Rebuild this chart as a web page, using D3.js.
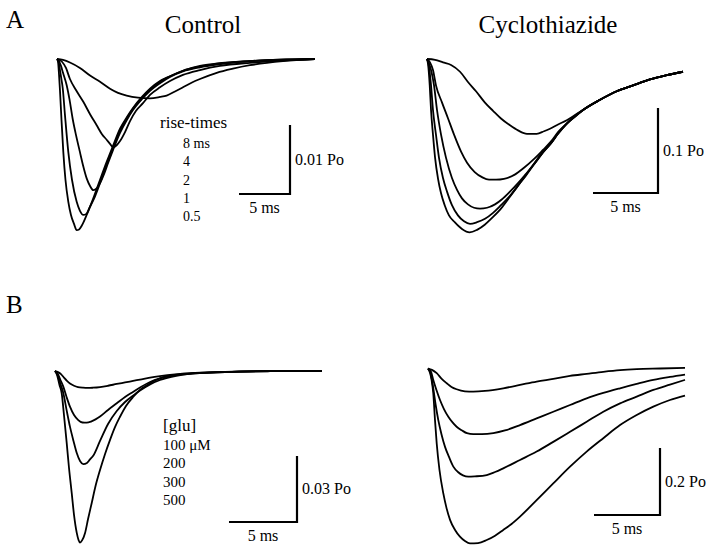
<!DOCTYPE html>
<html><head><meta charset="utf-8">
<script src="https://cdn.jsdelivr.net/npm/d3@7"></script>
<style>body{margin:0;background:#fff}svg{display:block}text{font-family:"Liberation Serif","Times New Roman",serif;fill:#000}</style>
</head><body><svg id="c" width="720" height="548"></svg>
<script>
// ---------- DATA (time in ms, value in Po) ----------
// Panel A, Control: rise-times 0.5, 1, 2, 4, 8 ms
const aCtrl05 = [[0,0],[0.1,0.0004],[0.2,0.0023],[0.29,0.0045],[0.44,0.0088],[0.62,0.0135],[0.83,0.0175],[1.11,0.0207],[1.37,0.0226],[1.67,0.0239],[1.93,0.0248],[2.16,0.0247],[2.45,0.0241],[2.94,0.0225],[3.53,0.0203],[4.22,0.0175],[4.9,0.0148],[5.49,0.0126],[6.18,0.0101],[6.86,0.0084],[7.45,0.0071],[8.33,0.0055],[9.12,0.0043],[10.1,0.0032],[11.08,0.0025],[12.35,0.0017],[14.02,0.001],[15.69,0.00065],[18.92,0.0003],[21.86,0.0001],[25.3,0]];
const aCtrl1 = [[0,0],[0.15,0.0004],[0.29,0.0016],[0.44,0.003],[0.56,0.0042],[0.78,0.0081],[1.11,0.0135],[1.47,0.0175],[1.93,0.0207],[2.25,0.022],[2.58,0.0226],[2.84,0.0225],[3.24,0.0214],[3.73,0.0199],[4.22,0.018],[4.9,0.0152],[5.49,0.0129],[6.18,0.0104],[6.86,0.0086],[7.45,0.0072],[8.33,0.0057],[9.12,0.0045],[10.1,0.0033],[11.08,0.0025],[12.35,0.0017],[14.02,0.0011],[15.69,0.0007],[18.92,0.0003],[21.86,0.0001],[25.3,0]];
const aCtrl2 = [[0,0],[0.2,0.0003],[0.39,0.001],[0.59,0.002],[0.95,0.0038],[1.23,0.0059],[1.54,0.0087],[1.86,0.011],[2.25,0.0135],[2.55,0.0154],[2.91,0.0173],[3.24,0.0184],[3.56,0.019],[3.92,0.0187],[4.22,0.018],[4.61,0.0167],[5.0,0.0151],[5.49,0.0132],[6.18,0.0107],[6.86,0.0088],[7.45,0.0074],[8.33,0.0058],[9.12,0.0046],[10.1,0.0035],[11.08,0.0026],[12.35,0.0018],[14.02,0.0012],[15.69,0.0008],[18.92,0.0003],[21.86,0.0002],[25.3,0]];
const aCtrl4 = [[0,0],[0.49,0.0004],[0.88,0.0013],[1.27,0.0029],[1.86,0.0045],[2.58,0.0062],[3.24,0.008],[3.89,0.0096],[4.41,0.0109],[4.87,0.0117],[5.2,0.0123],[5.52,0.0128],[5.85,0.0125],[6.18,0.0119],[6.67,0.0106],[7.16,0.009],[7.75,0.0075],[8.43,0.0064],[9.12,0.0052],[10.1,0.0041],[11.08,0.0032],[12.35,0.0023],[14.02,0.0016],[15.98,0.001],[18.92,0.00055],[21.86,0.00026],[25.3,0.00003]];
const aCtrl8 = [[0,0],[0.59,0.00014],[1.27,0.0005],[2.25,0.0013],[3.24,0.0024],[4.22,0.0033],[5.2,0.0043],[5.98,0.0049],[6.83,0.0053],[7.94,0.0056],[9.12,0.0057],[10.1,0.0055],[10.75,0.0053],[11.57,0.0047],[12.35,0.0041],[13.24,0.0034],[14.02,0.0029],[15.66,0.002],[17.25,0.0014],[18.92,0.0009],[22.16,0.0003],[25.3,0]];

// Panel A, Cyclothiazide: rise-times 0.5, 1, 2, 4, 8 ms
const aCyc05 = [[0,0],[0.08,0.006],[0.21,0.031],[0.31,0.06],[0.46,0.089],[0.62,0.116],[0.85,0.141],[1.08,0.158],[1.36,0.172],[1.69,0.184],[2.13,0.192],[2.69,0.2],[3.28,0.204],[3.85,0.201],[4.44,0.195],[5.0,0.187],[5.69,0.176],[6.38,0.162],[7.0,0.149],[7.62,0.136],[8.28,0.122],[8.92,0.109],[9.54,0.099],[10.08,0.087],[10.75,0.076],[11.38,0.068],[12.0,0.06],[13.31,0.048],[14.59,0.038],[15.85,0.031],[17.15,0.024],[18.44,0.019],[19.69,0.015]];
const aCyc1 = [[0,0],[0.12,0.006],[0.31,0.031],[0.46,0.06],[0.69,0.089],[0.92,0.116],[1.23,0.14],[1.54,0.156],[1.92,0.172],[2.38,0.184],[2.85,0.191],[3.31,0.194],[3.85,0.192],[4.46,0.188],[5.08,0.181],[5.69,0.172],[6.38,0.161],[7.0,0.149],[7.62,0.137],[8.28,0.123],[8.92,0.11],[9.54,0.099],[10.08,0.088],[10.75,0.076],[12.0,0.06],[13.31,0.048],[14.59,0.038],[15.85,0.031],[17.15,0.024],[18.44,0.019],[19.69,0.015]];
const aCyc2 = [[0,0],[0.15,0.005],[0.31,0.013],[0.54,0.031],[0.77,0.06],[1.08,0.089],[1.46,0.116],[1.92,0.14],[2.31,0.154],[2.69,0.164],[3.15,0.171],[3.62,0.175],[4.08,0.176],[4.62,0.175],[5.23,0.171],[5.77,0.165],[6.38,0.156],[7.0,0.146],[7.62,0.135],[8.28,0.123],[8.92,0.11],[9.54,0.099],[10.08,0.088],[10.75,0.076],[12.0,0.06],[13.31,0.048],[14.59,0.038],[15.85,0.031],[17.15,0.024],[18.44,0.019],[19.69,0.015]];
const aCyc4 = [[0,0],[0.23,0.004],[0.46,0.013],[0.69,0.031],[1.15,0.051],[1.62,0.07],[2.08,0.089],[2.62,0.109],[3.08,0.122],[3.67,0.133],[4.23,0.139],[4.77,0.142],[5.31,0.142],[5.92,0.141],[6.75,0.136],[7.46,0.128],[8.28,0.117],[8.92,0.107],[9.54,0.097],[10.08,0.086],[10.75,0.076],[12.0,0.06],[13.31,0.048],[14.59,0.038],[15.85,0.031],[17.15,0.024],[18.44,0.019],[19.69,0.015]];
const aCyc8 = [[0,0],[0.62,0.001],[1.23,0.004],[1.85,0.007],[2.54,0.015],[3.15,0.027],[3.77,0.038],[4.44,0.051],[5.08,0.061],[5.69,0.07],[6.38,0.078],[7.0,0.084],[7.69,0.088],[8.44,0.088],[9.0,0.085],[9.46,0.082],[10.08,0.077],[10.75,0.072],[11.38,0.066],[12.0,0.06],[13.31,0.048],[14.59,0.038],[15.85,0.031],[17.15,0.024],[18.44,0.019],[19.69,0.015]];

// Panel B, Control: [glu] 100, 200, 300, 500 µM
const bCtrl100 = [[0,0],[0.22,0.0005],[0.44,0.0014],[0.66,0.003],[0.88,0.0045],[1.1,0.0057],[1.4,0.0067],[1.69,0.0073],[2.06,0.0076],[2.43,0.0077],[2.79,0.0076],[3.31,0.0073],[3.9,0.0067],[4.54,0.0059],[5.15,0.0052],[5.74,0.0045],[6.25,0.0039],[6.99,0.003],[7.72,0.0023],[8.82,0.0015],[10.29,0.0009],[12.5,0.0004],[15.81,0.0001],[19.63,0]];
const bCtrl200 = [[0,0],[0.22,0.0014],[0.4,0.0041],[0.61,0.0071],[0.85,0.0118],[1.1,0.0162],[1.4,0.02],[1.71,0.0223],[2.02,0.0234],[2.33,0.0235],[2.65,0.023],[2.98,0.022],[3.31,0.0207],[3.9,0.0177],[4.54,0.0147],[5.15,0.0118],[5.76,0.0094],[6.25,0.0075],[6.99,0.005],[7.72,0.0034],[8.82,0.002],[10.29,0.0011],[12.5,0.0005],[15.81,0.0001],[19.63,0]];
const bCtrl300 = [[0,0],[0.22,0.0023],[0.4,0.0059],[0.61,0.01],[0.85,0.0177],[1.1,0.0253],[1.36,0.0318],[1.6,0.0373],[1.84,0.0409],[2.08,0.0423],[2.35,0.0418],[2.57,0.0402],[2.82,0.0384],[3.31,0.0318],[3.9,0.0241],[4.54,0.0182],[5.15,0.0141],[5.76,0.0111],[6.25,0.0089],[6.99,0.0061],[7.72,0.0041],[8.82,0.0023],[10.29,0.0011],[12.5,0.0005],[15.81,0.0001],[19.63,0]];
const bCtrl500 = [[0,0],[0.15,0.0018],[0.33,0.0064],[0.49,0.01],[0.66,0.02],[0.86,0.0327],[1.03,0.0441],[1.23,0.0555],[1.4,0.0655],[1.6,0.0736],[1.73,0.0768],[1.84,0.078],[1.99,0.077],[2.21,0.0736],[2.43,0.0673],[2.7,0.06],[2.98,0.0523],[3.31,0.045],[3.68,0.0377],[4.04,0.0314],[4.41,0.0255],[4.78,0.0208],[5.22,0.0159],[5.76,0.0117],[6.25,0.0086],[6.99,0.0056],[7.72,0.0033],[8.82,0.0018],[10.29,0.0009],[12.5,0.0004],[15.81,0],[19.63,0]];

// Panel B, Cyclothiazide: [glu] 100, 200, 300, 500 µM
const bCyc100 = [[0,0],[0.3,0.004],[0.66,0.014],[1.02,0.03],[1.42,0.044],[1.78,0.055],[2.17,0.062],[2.8,0.068],[3.43,0.069],[4.32,0.067],[5.7,0.059],[6.97,0.049],[8.23,0.039],[9.49,0.031],[10.76,0.022],[12.02,0.016],[13.28,0.01],[14.55,0.005],[15.81,0.002],[17.58,0],[19.47,-0.002]];
const bCyc200 = [[0,0],[0.23,0.01],[0.4,0.034],[0.64,0.064],[0.91,0.094],[1.21,0.121],[1.54,0.144],[1.86,0.161],[2.17,0.174],[2.58,0.185],[2.95,0.193],[3.43,0.196],[4.09,0.196],[4.95,0.193],[5.83,0.185],[6.97,0.169],[8.23,0.149],[9.49,0.129],[10.76,0.109],[12.02,0.089],[13.28,0.073],[14.55,0.059],[15.81,0.046],[17.07,0.034],[18.33,0.025],[19.47,0.018]];
const bCyc300 = [[0,0],[0.19,0.013],[0.38,0.054],[0.57,0.106],[0.78,0.154],[1.02,0.196],[1.29,0.234],[1.59,0.264],[1.92,0.293],[2.27,0.309],[2.65,0.319],[3.05,0.323],[3.56,0.322],[4.45,0.318],[5.08,0.309],[5.7,0.298],[6.97,0.273],[8.23,0.248],[9.49,0.219],[10.76,0.189],[12.02,0.159],[13.28,0.129],[14.55,0.104],[15.81,0.084],[17.07,0.064],[18.33,0.048],[19.47,0.034]];
const bCyc500 = [[0,0],[0.15,0.013],[0.27,0.034],[0.4,0.074],[0.53,0.154],[0.66,0.224],[0.87,0.303],[1.16,0.373],[1.4,0.416],[1.67,0.452],[2.05,0.482],[2.42,0.502],[2.8,0.515],[3.18,0.522],[3.79,0.521],[4.45,0.512],[5.08,0.499],[5.7,0.482],[6.33,0.464],[6.97,0.442],[8.23,0.393],[9.49,0.343],[10.76,0.293],[12.02,0.248],[13.28,0.208],[14.55,0.169],[15.81,0.139],[17.07,0.114],[18.33,0.094],[19.47,0.081]];

// Labels
const columnTitles = ["Control", "Cyclothiazide"];
const rowLetters = ["A", "B"];
const riseLegendTitle = "rise-times";
const riseLegend = ["8 ms", "4", "2", "1", "0.5"];
const gluLegendTitle = "[glu]";
const gluLegend = ["100 \u03BCM", "200", "300", "500"];
const scaleTime = 5; // ms
const scaleTimeLabel = "5 ms";
const scaleAmps = [0.01, 0.1, 0.03, 0.2];
const scaleAmpLabels = ["0.01 Po", "0.1 Po", "0.03 Po", "0.2 Po"];

// ---------- LAYOUT ----------
const panels = [
  {traces:[aCtrl05,aCtrl1,aCtrl2,aCtrl4,aCtrl8], xd:[0,25.3], xr:[57,315], yd:[0,0.025], yr:[59,231.5], bar:[290,194], amp:0},
  {traces:[aCyc05,aCyc1,aCyc2,aCyc4,aCyc8], xd:[0,19.69], xr:[427,683], yd:[0,0.2], yr:[59,229], bar:[658,193], amp:1},
  {traces:[bCtrl100,bCtrl200,bCtrl300,bCtrl500], xd:[0,19.63], xr:[55,322], yd:[0,0.078], yr:[371,542.6], bar:[297,522], amp:2},
  {traces:[bCyc100,bCyc200,bCyc300,bCyc500], xd:[0,19.47], xr:[428,685], yd:[0,0.5], yr:[368.5,536], bar:[660,515], amp:3}
];

const svg = d3.select("#c");
const serif = "'Liberation Serif', 'Times New Roman', serif";

panels.forEach(p => {
  const x = d3.scaleLinear().domain(p.xd).range(p.xr);
  const y = d3.scaleLinear().domain(p.yd).range(p.yr);
  const line = d3.line().x(d => x(d[0])).y(d => y(d[1])).curve(d3.curveMonotoneX);
  const g = svg.append("g");
  g.selectAll("path.trace").data(p.traces).join("path")
    .attr("class","trace").attr("d", line)
    .attr("fill","none").attr("stroke","#000").attr("stroke-width",1.8)
    .attr("stroke-linejoin","round");
  // scale bar
  const [cx, cy] = p.bar;
  const w = x(scaleTime) - x(0);
  const h = y(scaleAmps[p.amp]) - y(0);
  g.append("path")
    .attr("d", `M${cx - w},${cy}H${cx}V${cy - h}`)
    .attr("fill","none").attr("stroke","#000").attr("stroke-width",2.2);
  g.append("text").attr("x", cx + 5).attr("y", cy - h/2 + 5)
    .attr("font-family", serif).attr("font-size", 16).text(scaleAmpLabels[p.amp]);
  g.append("text").attr("x", cx - w/2).attr("y", cy + 19)
    .attr("text-anchor","middle").attr("font-family", serif).attr("font-size", 16).text(scaleTimeLabel);
});

// titles
svg.selectAll("text.title").data(columnTitles).join("text").attr("class","title")
  .attr("x", (d,i) => [203, 548][i]).attr("y", 33)
  .attr("text-anchor","middle").attr("font-family", serif).attr("font-size", 25).text(d => d);
svg.selectAll("text.row").data(rowLetters).join("text").attr("class","row")
  .attr("x", 6).attr("y", (d,i) => [28, 313][i])
  .attr("font-family", serif).attr("font-size", 25).text(d => d);

// legends
svg.append("text").attr("x",160).attr("y",128).attr("font-family", serif).attr("font-size",17).text(riseLegendTitle);
svg.selectAll("text.rl").data(riseLegend).join("text").attr("class","rl")
  .attr("x",183).attr("y",(d,i)=>148 + i*18.3).attr("font-family", serif).attr("font-size",14).text(d=>d);
svg.append("text").attr("x",163).attr("y",431).attr("font-family", serif).attr("font-size",17).text(gluLegendTitle);
svg.selectAll("text.gl").data(gluLegend).join("text").attr("class","gl")
  .attr("x",163).attr("y",(d,i)=>450 + i*18.3).attr("font-family", serif).attr("font-size",15).text(d=>d);
</script></body></html>
